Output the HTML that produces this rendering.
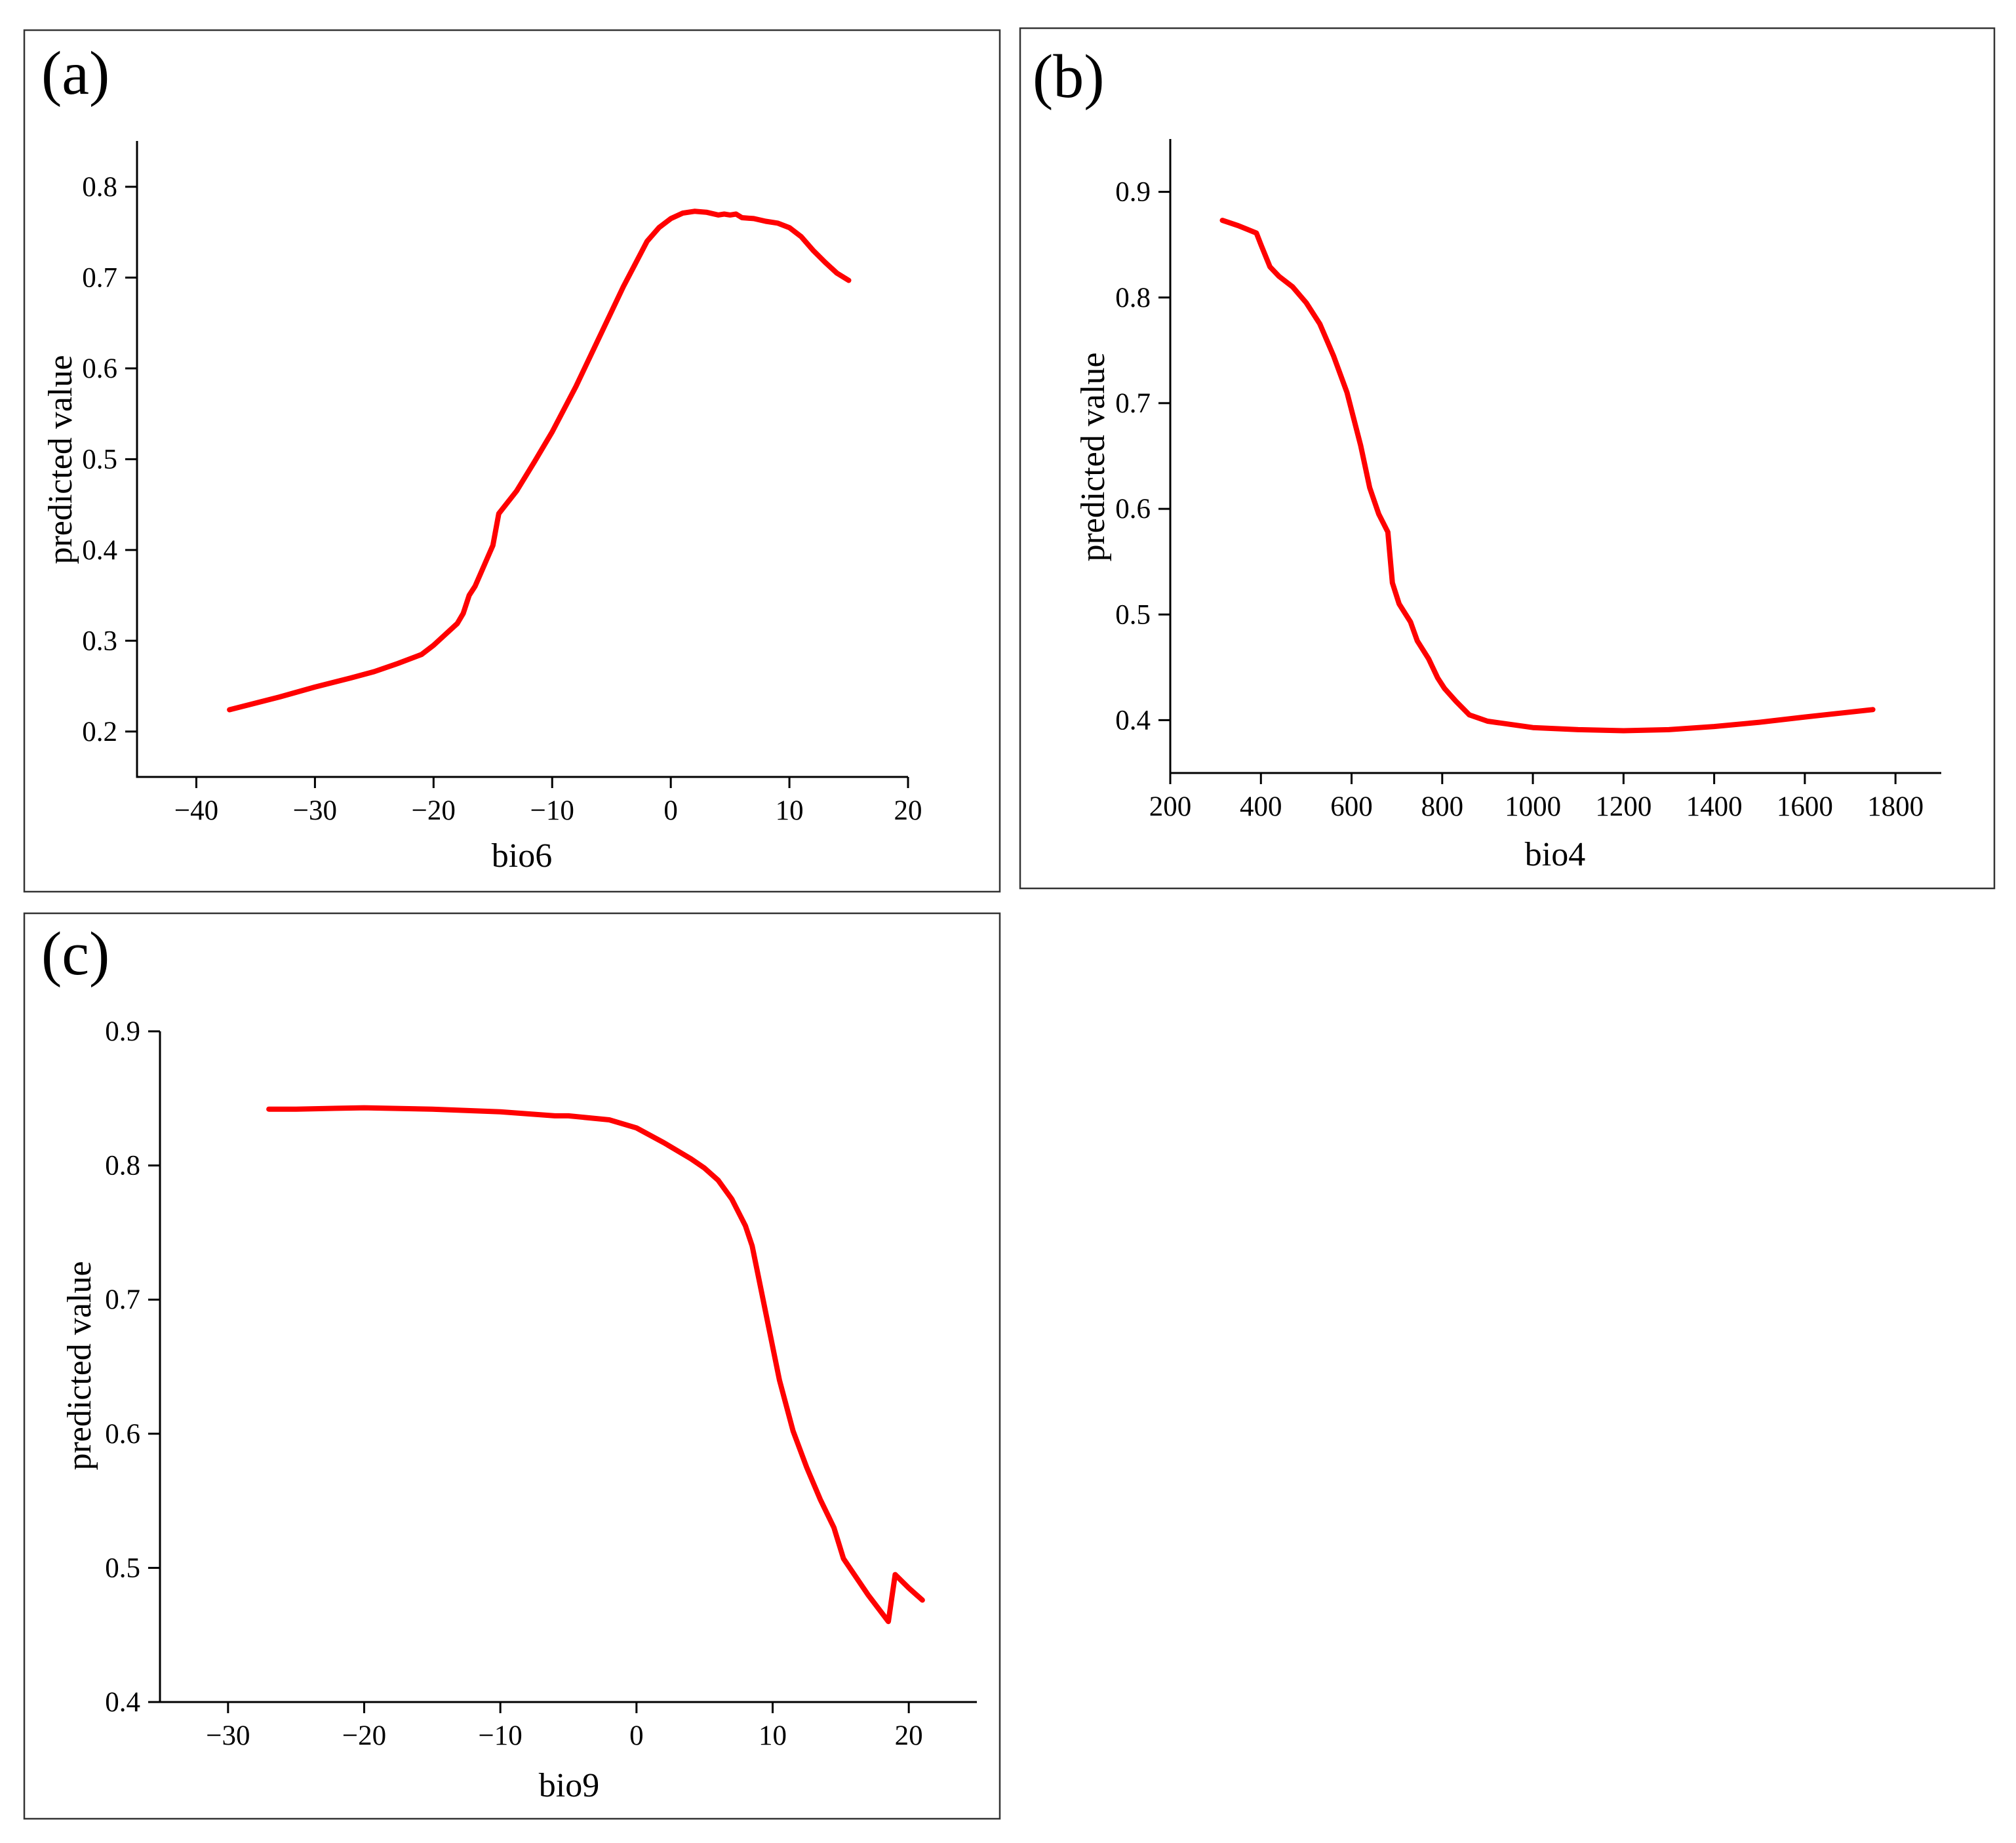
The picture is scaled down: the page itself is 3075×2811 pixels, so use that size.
<!DOCTYPE html>
<html><head><meta charset="utf-8"><style>
html,body{margin:0;padding:0;background:#fff;}
svg{display:block;}
text{font-family:"Liberation Serif",serif;fill:#000;}
</style></head><body>
<svg id="chart" width="3075" height="2811" viewBox="0 0 3075 2811" xmlns="http://www.w3.org/2000/svg"></svg>
<script>
// Panel (a): bio6
const bio6X = [-37.2,-33,-30,-27,-25,-23,-21,-20,-19,-18,-17.5,-17,-16.5,-16,-15.5,-15,-14.5,-13,-11.5,-10,-8,-6,-4,-3,-2,-1,0,1,2,3,4,4.5,5,5.5,6,7,8,9,10,11,12,13,14,15];
const bio6Y = [0.224,0.238,0.249,0.259,0.266,0.275,0.285,0.295,0.307,0.319,0.33,0.35,0.36,0.375,0.39,0.405,0.44,0.465,0.497,0.53,0.58,0.635,0.69,0.715,0.74,0.755,0.765,0.771,0.773,0.772,0.769,0.77,0.769,0.77,0.766,0.765,0.762,0.76,0.755,0.745,0.73,0.717,0.705,0.697];
const bio6XTicks = [-40,-30,-20,-10,0,10,20];
const bio6YTicks = [0.2,0.3,0.4,0.5,0.6,0.7,0.8];
// Panel (b): bio4
const bio4X = [315,350,390,400,420,440,470,500,530,560,590,620,640,660,680,690,705,730,745,770,790,805,830,860,900,1000,1100,1200,1300,1400,1500,1600,1750];
const bio4Y = [0.873,0.868,0.861,0.85,0.829,0.82,0.81,0.795,0.775,0.745,0.71,0.66,0.62,0.595,0.578,0.53,0.51,0.493,0.475,0.458,0.44,0.43,0.418,0.405,0.399,0.393,0.391,0.39,0.391,0.394,0.398,0.403,0.41];
const bio4XTicks = [200,400,600,800,1000,1200,1400,1600,1800];
const bio4YTicks = [0.4,0.5,0.6,0.7,0.8,0.9];
// Panel (c): bio9
const bio9X = [-27,-25,-20,-15,-10,-6,-5,-2,0,2,4,5,6,7,8,8.5,9.5,10.5,11.5,12.5,13.5,14.5,15.2,16,17,18.5,19,20,21];
const bio9Y = [0.842,0.842,0.843,0.842,0.84,0.837,0.837,0.834,0.828,0.817,0.805,0.798,0.789,0.775,0.755,0.74,0.69,0.64,0.602,0.575,0.551,0.53,0.507,0.495,0.48,0.46,0.495,0.485,0.476];
const bio9XTicks = [-30,-20,-10,0,10,20];
const bio9YTicks = [0.4,0.5,0.6,0.7,0.8,0.9];

const NS = "http://www.w3.org/2000/svg";
const svg = document.getElementById('chart');
function mk(tag, attrs, parent) {
  const e = document.createElementNS(NS, tag);
  for (const k in attrs) e.setAttribute(k, attrs[k]);
  (parent || svg).appendChild(e);
  return e;
}

function panel(cfg) {
  const g = mk('g', {});
  
  
  const fr = mk('rect', {x: cfg.frame[0], y: cfg.frame[1], width: cfg.frame[2]-cfg.frame[0], height: cfg.frame[3]-cfg.frame[1], fill: 'none', stroke: '#333', 'stroke-width': 2.5}, g);
  
  
  const sx = v => cfg.px0 + (v - cfg.xmin) / (cfg.xmax - cfg.xmin) * (cfg.px1 - cfg.px0);
  const sy = v => cfg.py1 - (v - cfg.ymin) / (cfg.ymax - cfg.ymin) * (cfg.py1 - cfg.py0);
  const lab = mk('text', {x: cfg.labX, y: cfg.labY, 'font-size': 94}, g);
  lab.textContent = '(' + cfg.id + ')';
  
  
  const ya = mk('line', {x1: cfg.px0, y1: cfg.py0, x2: cfg.px0, y2: cfg.py1, stroke: '#000', 'stroke-width': 3}, g);
  
  
  const xa = mk('line', {x1: cfg.px0 - 1.5, y1: cfg.py1, x2: cfg.px1, y2: cfg.py1, stroke: '#000', 'stroke-width': 3}, g);
  
  
  cfg.xt.forEach(t => {
    const x = sx(t);
    const tk = mk('line', {x1: x, y1: cfg.py1, x2: x, y2: cfg.py1 + 17, stroke: '#000', 'stroke-width': 3}, g);
    
    
    const tl = mk('text', {x: x, y: cfg.py1 + 65, 'font-size': 43, 'text-anchor': 'middle'}, g);
    tl.textContent = t < 0 ? '\u2212' + Math.abs(t) : String(t);
    
    
  });
  cfg.yt.forEach(t => {
    const y = sy(t);
    const tk = mk('line', {x1: cfg.px0 - 18, y1: y, x2: cfg.px0, y2: y, stroke: '#000', 'stroke-width': 3}, g);
    
    
    const tl = mk('text', {x: cfg.px0 - 30, y: y + 14, 'font-size': 43, 'text-anchor': 'end'}, g);
    tl.textContent = t.toFixed(1);
    
    
  });
  const xl = mk('text', {x: cfg.xlX, y: cfg.xlY, 'font-size': 52, 'text-anchor': 'middle'}, g);
  xl.textContent = cfg.xlabel;
  
  
  const yl = mk('text', {x: 0, y: 0, 'font-size': 52, 'text-anchor': 'middle', transform: 'translate(' + (cfg.ylX + 17) + ',' + cfg.ylY + ') rotate(-90)'}, g);
  yl.textContent = 'predicted value';
  
  
  const d = cfg.xs.map((v, i) => (i ? 'L' : 'M') + sx(v).toFixed(1) + ' ' + sy(cfg.ys[i]).toFixed(1)).join(' ');
  const ln = mk('path', {d: d, fill: 'none', stroke: '#ff0000', 'stroke-width': 8, 'stroke-linejoin': 'round', 'stroke-linecap': 'round'}, g);
  
  
}

panel({id: 'a', frame: [37, 46, 1525, 1360], labX: 63, labY: 143,
  px0: 209, px1: 1385, py0: 215, py1: 1185,
  xmin: -45, xmax: 20, ymin: 0.15, ymax: 0.8505,
  xt: bio6XTicks, yt: bio6YTicks, xs: bio6X, ys: bio6Y,
  xlabel: 'bio6', xlX: 796, xlY: 1322, ylX: 92, ylY: 701});
panel({id: 'b', frame: [1556, 43, 3042, 1355], labX: 1575, labY: 148,
  px0: 1785, px1: 2961, py0: 212, py1: 1179,
  xmin: 200, xmax: 1901, ymin: 0.35, ymax: 0.95,
  xt: bio4XTicks, yt: bio4YTicks, xs: bio4X, ys: bio4Y,
  xlabel: 'bio4', xlX: 2372, xlY: 1320, ylX: 1667, ylY: 697});
panel({id: 'c', frame: [37, 1393, 1525, 2774], labX: 63, labY: 1486,
  px0: 244, px1: 1490, py0: 1573, py1: 2596,
  xmin: -35, xmax: 25, ymin: 0.4, ymax: 0.9,
  xt: bio9XTicks, yt: bio9YTicks, xs: bio9X, ys: bio9Y,
  xlabel: 'bio9', xlX: 868, xlY: 2740, ylX: 121, ylY: 2083});
</script>
</body></html>
